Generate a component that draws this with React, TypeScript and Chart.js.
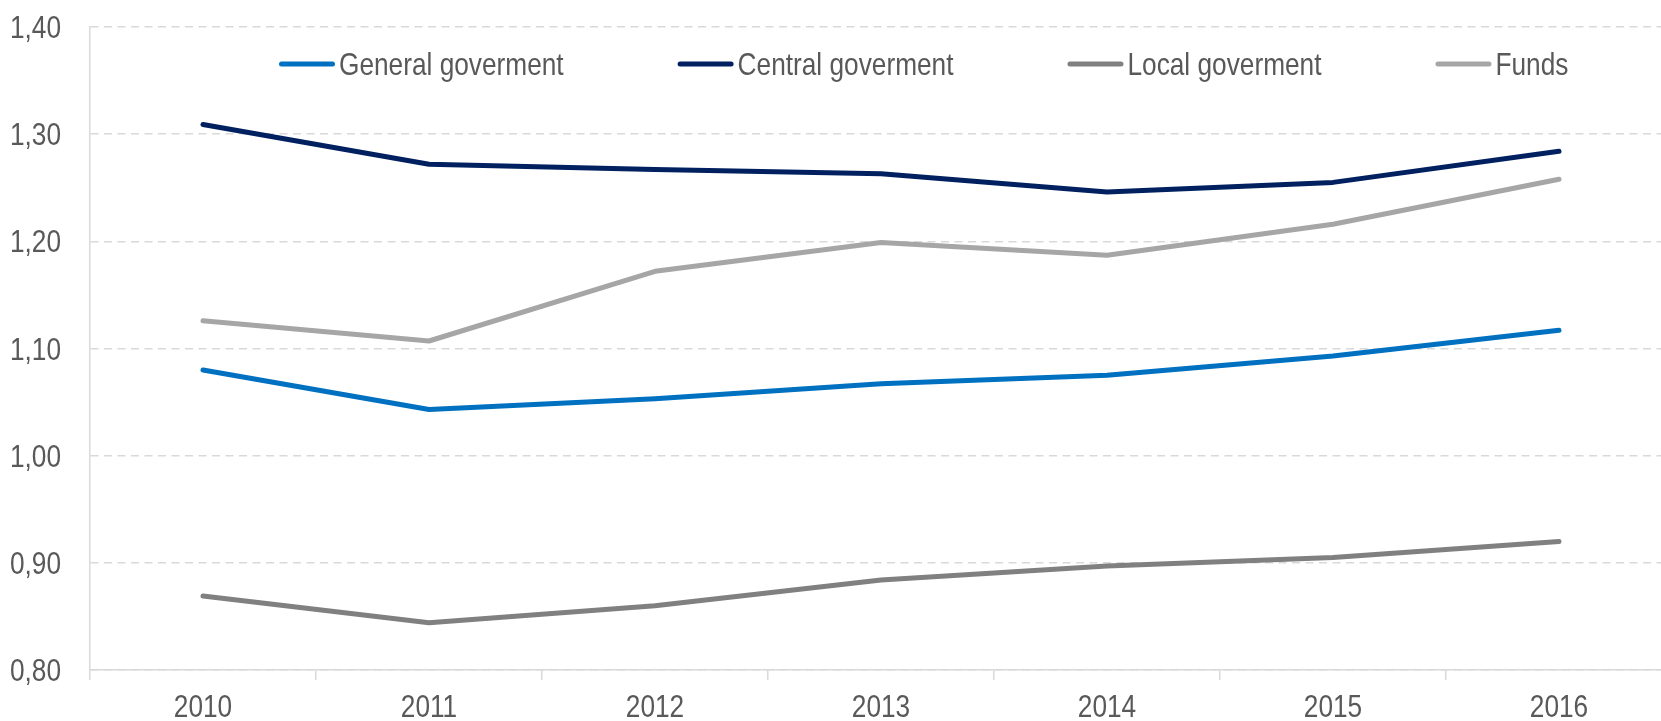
import React, { useEffect, useRef } from "react";
import { Chart, registerables } from "chart.js";

Chart.register(...registerables);

const years = ["2010", "2011", "2012", "2013", "2014", "2015", "2016"];
const generalGov = [1.08, 1.043, 1.053, 1.067, 1.075, 1.093, 1.117];
const centralGov = [1.309, 1.272, 1.267, 1.263, 1.246, 1.255, 1.284];
const localGov = [0.869, 0.844, 0.86, 0.884, 0.897, 0.905, 0.92];
const funds = [1.126, 1.107, 1.172, 1.199, 1.187, 1.216, 1.258];

const seriesNames = ["General goverment", "Central goverment", "Local goverment", "Funds"];
const seriesColors = ["#0070C0", "#002060", "#808080", "#A6A6A6"];

const FONT = '"Liberation Sans", Arial, sans-serif';
const FONT_SIZE = 32;
const NARROW = 0.82;
const TEXT_COLOR = "#595959";

function drawNarrow(ctx: CanvasRenderingContext2D, text: string, x: number, y: number, align: CanvasTextAlign) {
  ctx.save();
  ctx.translate(x, y);
  ctx.scale(NARROW, 1);
  ctx.font = `${FONT_SIZE}px ${FONT}`;
  ctx.textAlign = align;
  ctx.textBaseline = "alphabetic";
  ctx.fillStyle = TEXT_COLOR;
  ctx.fillText(text, 0, 0);
  ctx.restore();
}

function narrowWidth(ctx: CanvasRenderingContext2D, text: string) {
  ctx.save();
  ctx.font = `${FONT_SIZE}px ${FONT}`;
  const w = ctx.measureText(text).width * NARROW;
  ctx.restore();
  return w;
}

const labelsPlugin = {
  id: "narrowLabels",
  afterDraw(chart: any) {
    const ctx = chart.ctx as CanvasRenderingContext2D;
    const xs = chart.scales.x;
    const ys = chart.scales.y;
    // x-axis labels
    xs.ticks.forEach((t: any, i: number) => {
      const px = xs.getPixelForTick(i);
      const label = String(xs.getLabelForValue(t.value));
      drawNarrow(ctx, label, px, xs.top + 47, "center");
    });
    // y-axis labels
    ys.ticks.forEach((t: any) => {
      const py = ys.getPixelForValue(t.value);
      const label = Number(t.value).toFixed(2).replace(".", ",");
      drawNarrow(ctx, label, ys.right - 29, py + 11, "right");
    });
    // legend
    let x = 279;
    const y = 64;
    chart.data.datasets.forEach((ds: any) => {
      ctx.save();
      ctx.strokeStyle = ds.borderColor;
      ctx.lineWidth = 5;
      ctx.lineCap = "round";
      ctx.beginPath();
      ctx.moveTo(x + 2.5, y);
      ctx.lineTo(x + 53.5, y);
      ctx.stroke();
      ctx.restore();
      drawNarrow(ctx, ds.label, x + 60, y + 11, "left");
      x += 60 + narrowWidth(ctx, ds.label) + 114;
    });
  },
};

export default function App() {
  const ref = useRef<HTMLCanvasElement | null>(null);

  useEffect(() => {
    if (!ref.current) return;
    const data = [generalGov, centralGov, localGov, funds];
    const chart = new Chart(ref.current, {
      type: "line",
      data: {
        labels: years,
        datasets: data.map((d, i) => ({
          label: seriesNames[i],
          data: d,
          borderColor: seriesColors[i],
          backgroundColor: seriesColors[i],
          borderWidth: 5,
          borderCapStyle: "round",
          borderJoinStyle: "round",
          pointRadius: 0,
          tension: 0,
          fill: false,
        })),
      },
      options: {
        animation: false,
        responsive: false,
        devicePixelRatio: 1,
        layout: { padding: { top: 27, right: 8, left: 0, bottom: 0 } },
        plugins: {
          legend: { display: false },
          tooltip: { enabled: false },
        },
        scales: {
          x: {
            type: "category",
            offset: true,
            afterFit: (s: any) => {
              s.height = 51;
            },
            border: { color: "#D9D9D9", width: 1.5 },
            grid: {
              offset: true,
              drawOnChartArea: false,
              drawTicks: true,
              tickLength: 10,
              color: "#D9D9D9",
              lineWidth: 1.5,
            },
            ticks: { display: false },
          },
          y: {
            min: 0.8,
            max: 1.4,
            afterFit: (s: any) => {
              s.width = 90;
            },
            border: { color: "#D9D9D9", width: 1.5, dash: [8, 5.5] },
            grid: {
              color: "#D9D9D9",
              lineWidth: 1.5,
              drawTicks: false,
              tickLength: 0,
            },
            ticks: { stepSize: 0.1, display: false },
          },
        },
      },
      plugins: [labelsPlugin],
    });
    return () => chart.destroy();
  }, []);

  return (
    <div
      style={{
        position: "fixed",
        left: 0,
        top: 0,
        width: 1661,
        height: 721,
        overflow: "hidden",
        background: "#fff",
      }}
    >
      <canvas ref={ref} width={1680} height={721} style={{ display: "block" }} />
    </div>
  );
}
